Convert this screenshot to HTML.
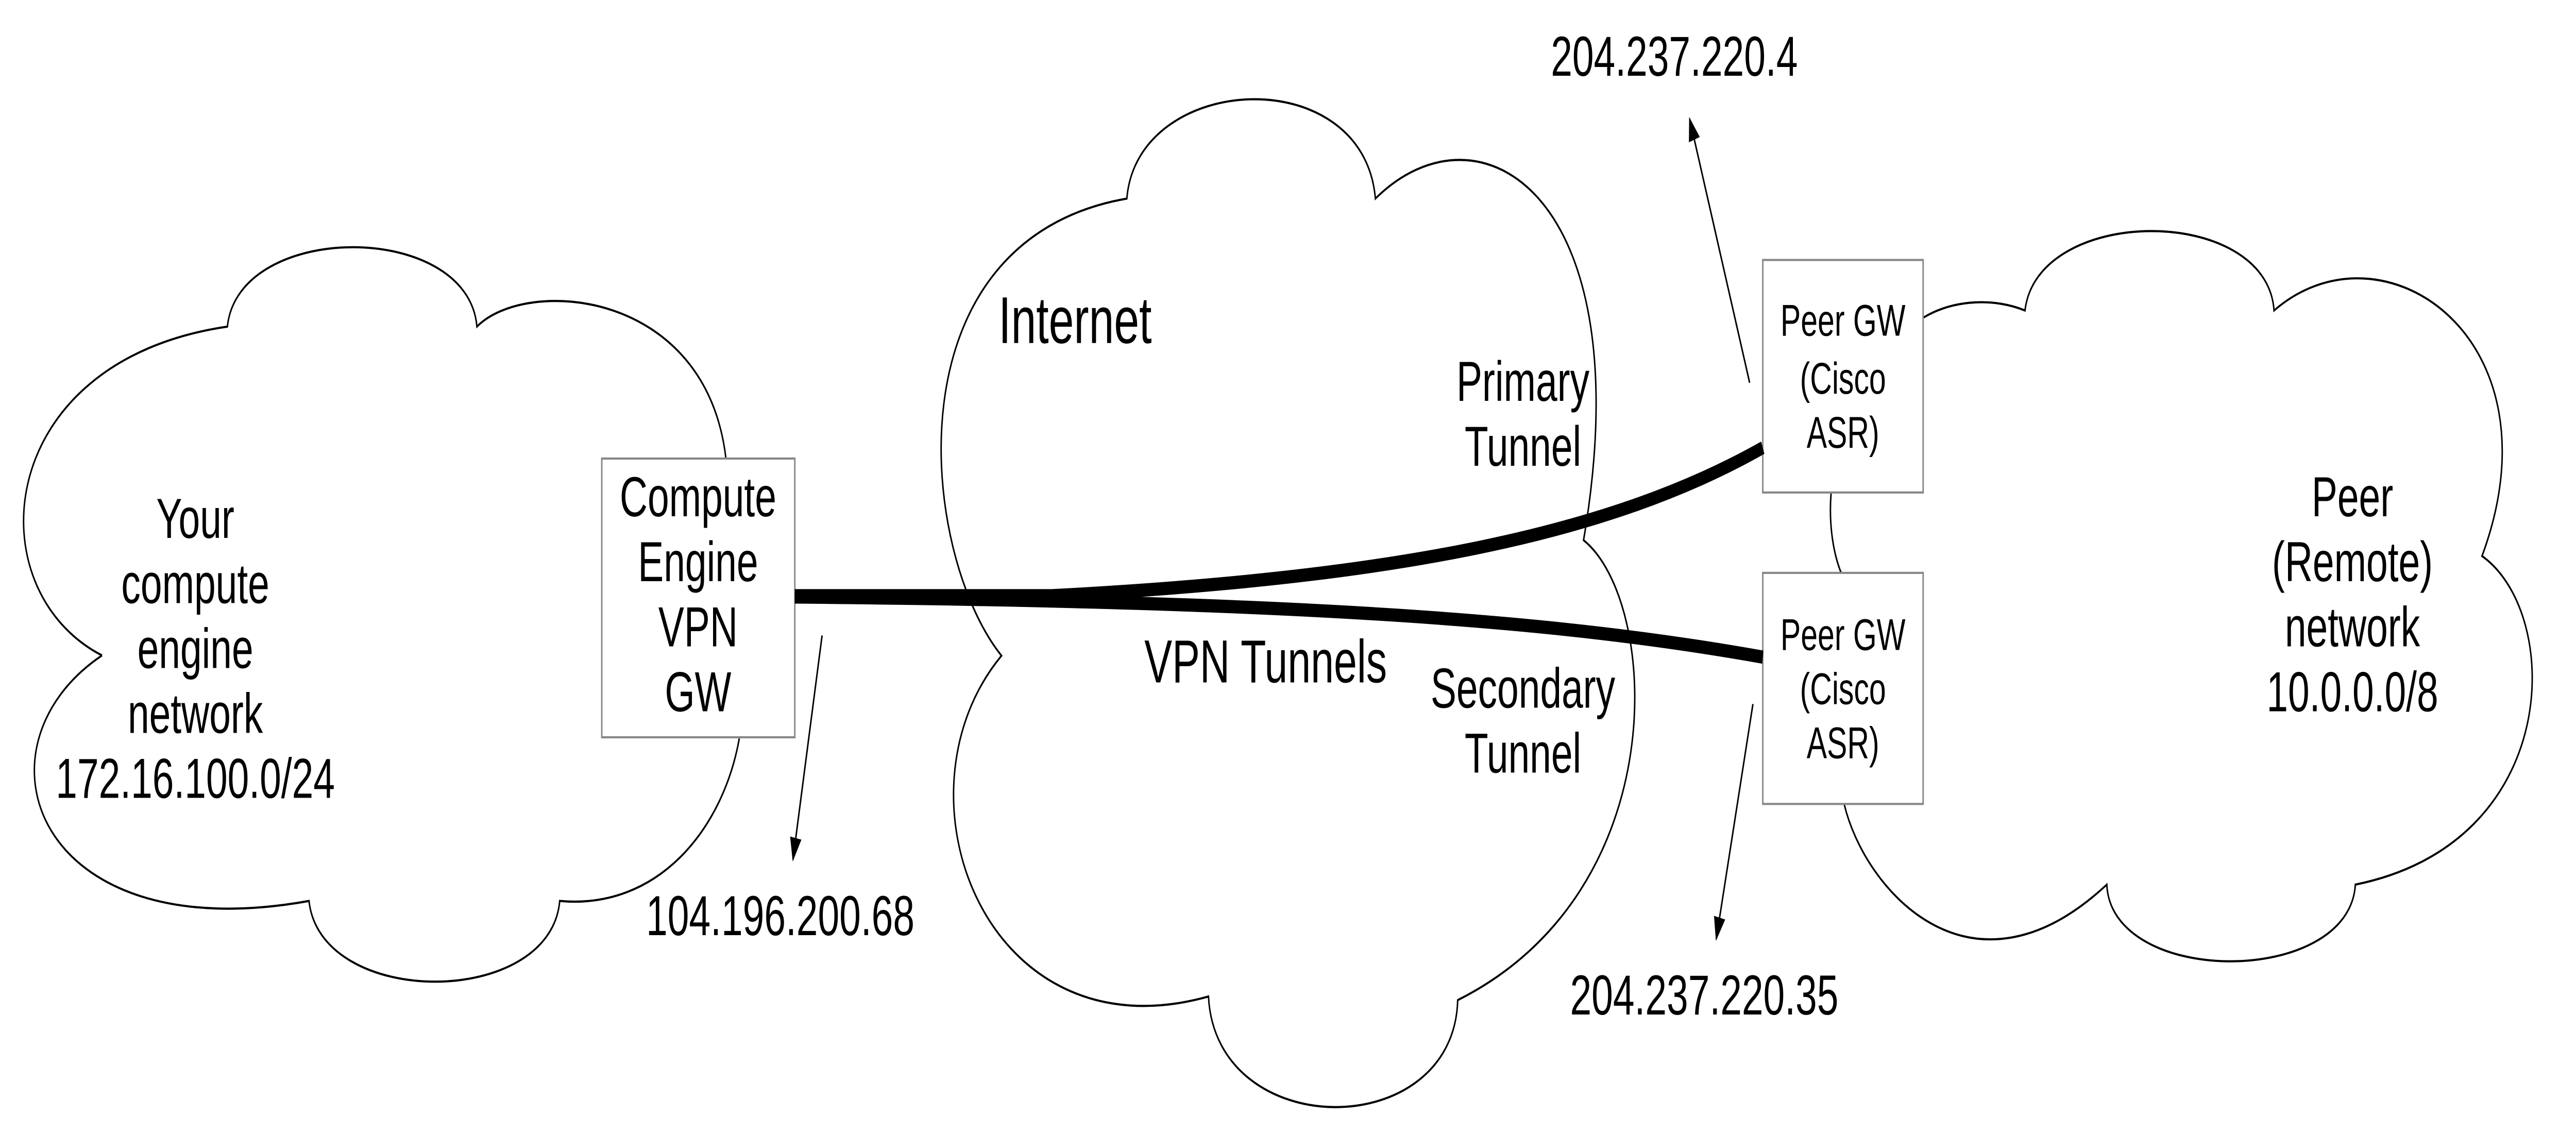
<!DOCTYPE html>
<html><head><meta charset="utf-8"><style>
html,body{margin:0;padding:0;background:#fff;width:100%;height:100%;overflow:hidden;}
svg{display:block;position:fixed;left:0;top:0;width:100vw;height:100vh;}
text{font-family:"Liberation Sans",Arial,sans-serif;fill:#000;}
</style></head><body>
<svg viewBox="0 0 1568 470.7" preserveAspectRatio="none" xmlns="http://www.w3.org/2000/svg">
<rect x="0" y="0" width="1568" height="470.7" fill="#fff"/>
<defs>
<marker id="ah" markerWidth="10" markerHeight="10" refX="9" refY="5" orient="auto" markerUnits="userSpaceOnUse">
<path d="M0,1.5 L10,5 L0,8.5 Z" fill="#000"/>
</marker>
</defs>
<g fill="none" stroke="#000" stroke-width="0.9">
<path d="M62.1,272.3 C-15,245 -5,150 138.4,135.7 C145,91.7 285,91.7 290.3,135.7 C320,115 430,120 441.9,190.6"/>
<path d="M450,306.8 C440,345 400,378 340.7,374.3 C335,419 195,419 188.1,374.3 C20,395 -20,310 62.1,272.3"/>
<path d="M609.6,272.4 C560,230 540,100 685.9,82.5 C692,30 830,25 837.2,82.5 C900,40 1000,80 963.9,224.4 C1010,250 1020,370 887.3,415.5 C885,475 740,475 735.6,414 C600,440 540,330 609.6,272.4 Z"/>
<path d="M1170.6,132 C1190,124 1215,124 1232.6,129 C1240,85 1380,85 1384.2,129 C1450,90 1560,140 1510.8,231 C1560,255 1560,350 1433.7,367.5 C1430,410 1285,410 1282.4,367.5 C1200,420 1135,370 1122.5,334"/>
<path d="M1114.6,204.6 C1113,218 1116,230 1120.7,238"/>
</g>
<g fill="#fff" stroke="#888" stroke-width="0.9">
<rect x="366.3" y="190.5" width="117.5" height="115.8"/>
<rect x="1073" y="108" width="97.6" height="96.6"/>
<rect x="1073" y="238" width="97.6" height="96"/>
</g>
<g fill="none" stroke="#000" stroke-width="5.5">
<path d="M483.8,247.5 L640,247.5 C850,240 980,222 1073,186"/>
<path d="M483.8,248 C800,250 950,258 1073,273"/>
</g>
<g fill="none" stroke="#000" stroke-width="0.9" marker-end="url(#ah)">
<line x1="500.4" y1="264" x2="482.7" y2="357"/>
<line x1="1065" y1="159" x2="1028.5" y2="49.5"/>
<line x1="1067" y1="292.5" x2="1044.7" y2="390"/>
</g>
<g font-size="23.5" text-anchor="middle">
<text x="118.9" y="223.5">Your</text>
<text x="118.9" y="250.5">compute</text>
<text x="118.9" y="277.5">engine</text>
<text x="118.9" y="304.5">network</text>
<text x="118.9" y="331.5">172.16.100.0/24</text>
<text x="424.9" y="214.5">Compute</text>
<text x="424.9" y="241.5">Engine</text>
<text x="424.9" y="268.5">VPN</text>
<text x="424.9" y="295.5">GW</text>
<text x="927" y="166.5">Primary</text>
<text x="927" y="193.5">Tunnel</text>
<text x="927" y="294">Secondary</text>
<text x="927" y="321">Tunnel</text>
<text x="1431.9" y="214.5">Peer</text>
<text x="1431.9" y="241.5">(Remote)</text>
<text x="1431.9" y="268.5">network</text>
<text x="1431.9" y="295.5">10.0.0.0/8</text>
</g>
<g font-size="23.5">
<text x="393.3" y="388.5">104.196.200.68</text>
<text x="944" y="31.5">204.237.220.4</text>
<text x="955.7" y="421.5">204.237.220.35</text>
</g>
<text x="607.8" y="142.5" font-size="27.5">Internet</text>
<text x="696.6" y="283.5" font-size="25.3">VPN Tunnels</text>
<g font-size="18.5" text-anchor="middle">
<text x="1121.8" y="139.5">Peer GW</text>
<text x="1121.8" y="163.5">(Cisco</text>
<text x="1121.8" y="186">ASR)</text>
<text x="1121.8" y="270">Peer GW</text>
<text x="1121.8" y="292.5">(Cisco</text>
<text x="1121.8" y="315">ASR)</text>
</g>
</svg>
</body></html>
